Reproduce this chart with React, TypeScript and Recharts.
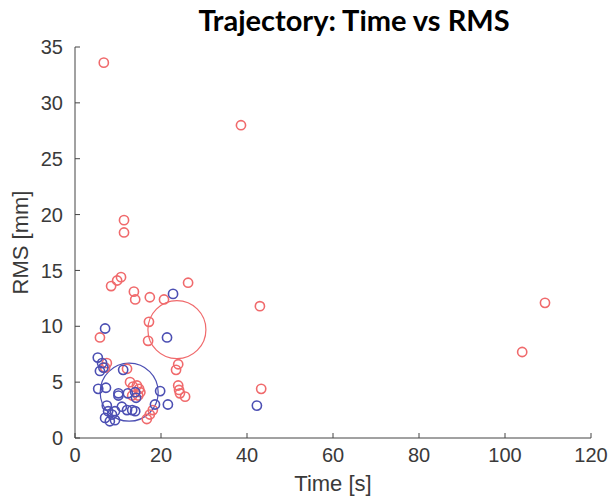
import { Scatter, ScatterChart, XAxis, YAxis } from 'recharts'

// [time (s), rms (mm)]
const redTime = [
  6.7, 38.6, 11.4, 11.4, 8.4, 9.8, 10.7, 13.7, 14.0, 17.4, 20.7, 26.3, 17.2, 17.0, 5.8, 43.0, 109.3, 104.0, 43.3,
  24.0, 23.5, 24.0, 24.2, 24.4, 25.6, 16.7, 17.4, 18.1, 7.4, 12.1, 12.8, 14.4, 13.3, 14.7, 14.9, 15.2, 13.5, 7.0,
]
const redRms = [
  33.6, 28.0, 19.5, 18.4, 13.6, 14.1, 14.4, 13.1, 12.4, 12.6, 12.4, 13.9, 10.4, 8.7, 9.0, 11.8, 12.1, 7.7, 4.4,
  6.6, 6.1, 4.7, 4.3, 4.0, 3.7, 1.7, 2.1, 2.5, 6.7, 6.2, 5.0, 4.7, 3.8, 3.8, 4.4, 4.1, 4.6, 6.3,
]

const blueTime = [
  22.8, 7.0, 21.4, 42.3, 5.3, 6.3, 6.6, 5.8, 11.2, 5.4, 7.2, 10.1, 10.1, 12.3, 14.0, 14.2, 19.8, 21.6, 18.6,
  7.4, 7.7, 7.0, 8.1, 9.3, 9.3, 10.9, 12.1, 13.3, 14.0, 8.6,
]
const blueRms = [
  12.9, 9.8, 9.0, 2.9, 7.2, 6.7, 6.3, 6.0, 6.1, 4.4, 4.5, 4.0, 3.8, 4.0, 4.1, 3.6, 4.2, 3.0, 3.0,
  2.9, 2.4, 1.8, 1.5, 1.6, 2.4, 2.8, 2.5, 2.5, 2.4, 2.1,
]

// centres of the two large circles
const redCentre = [23.7, 9.7]
const blueCentre = [12.6, 4.1]

const xTicks = [0, 20, 40, 60, 80, 100, 120]
const yTicks = [0, 5, 10, 15, 20, 25, 30, 35]

const RED = '#f06a6c'
const BLUE = '#4c4fb3'

const toPoints = (xs: number[], ys: number[]) => xs.map((t, i) => ({ time: t, rms: ys[i] }))

const redData = toPoints(redTime, redRms)
const blueData = toPoints(blueTime, blueRms)
const redBig = [{ time: redCentre[0], rms: redCentre[1] }]
const blueBig = [{ time: blueCentre[0], rms: blueCentre[1] }]

const ring = (color: string, r: number, w: number) => (props: any) => (
  <circle cx={props.cx} cy={props.cy} r={r} fill="none" stroke={color} strokeWidth={w} />
)

const font = 'Liberation Sans, Arial, sans-serif'
const tickStyle = { fill: '#3a3a3a', fontSize: 20, fontFamily: font }
const labelStyle = { fill: '#3a3a3a', fontSize: 22, fontFamily: font, textAnchor: 'middle' as const }

export default function App() {
  return (
    <div style={{ position: 'absolute', left: 0, top: 0, width: 611, height: 500, background: '#fff' }}>
      <div
        style={{
          position: 'absolute',
          left: 0,
          width: 708,
          top: 2,
          textAlign: 'center',
          fontFamily: 'Lato, sans-serif',
          fontWeight: 700,
          fontSize: 29,
          color: '#000',
        }}
      >
        Trajectory: Time vs RMS
      </div>
      <ScatterChart width={611} height={500} margin={{ top: 47, right: 20, bottom: 0, left: 0 }}>
        <XAxis
          type="number"
          dataKey="time"
          domain={[0, 120]}
          ticks={xTicks}
          height={62}
          tick={tickStyle}
          tickSize={-5}
          tickMargin={15}
          stroke="#444"
          label={{ value: 'Time [s]', position: 'insideBottom', offset: 9, style: labelStyle }}
        />
        <YAxis
          type="number"
          dataKey="rms"
          domain={[0, 35]}
          ticks={yTicks}
          width={75}
          tick={tickStyle}
          tickSize={-5}
          tickMargin={17}
          stroke="#444"
          label={{ value: 'RMS [mm]', angle: -90, position: 'insideLeft', offset: 20, style: labelStyle }}
        />
        <Scatter data={redBig} shape={ring(RED, 29, 1.2)} isAnimationActive={false} />
        <Scatter data={blueBig} shape={ring(BLUE, 29, 1.2)} isAnimationActive={false} />
        <Scatter data={redData} shape={ring(RED, 4.6, 1.6)} isAnimationActive={false} />
        <Scatter data={blueData} shape={ring(BLUE, 4.6, 1.6)} isAnimationActive={false} />
      </ScatterChart>
    </div>
  )
}
